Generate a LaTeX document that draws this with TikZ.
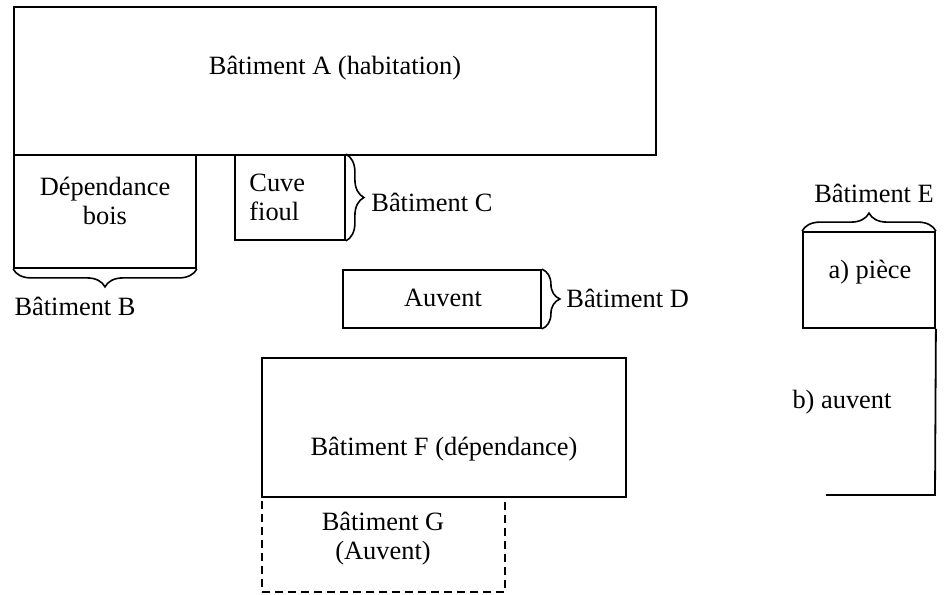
\documentclass[tikz,border=0pt]{standalone}
\usepackage{fontspec}
\setmainfont{Liberation Serif}
\usetikzlibrary{decorations.pathreplacing,fit}
\begin{document}
\begin{tikzpicture}[x=0.5pt,y=-0.5pt,
  bld/.style={draw, line width=0.9pt, inner sep=0pt},
  lbl/.style={font=\fontsize{13.2}{14.5}\selectfont, inner sep=0pt, align=center},
  brc/.style={decorate, decoration={brace, amplitude=9pt}, line width=0.8pt}]
\useasboundingbox (0,0) rectangle (951,594);

% corner points of the buildings
\coordinate (a1) at (14,7);    \coordinate (a2) at (656,155);
\coordinate (b1) at (14,155);  \coordinate (b2) at (196,268);
\coordinate (c1) at (235,155); \coordinate (c2) at (345,240);
\coordinate (d1) at (343,270); \coordinate (d2) at (541,328);
\coordinate (e1) at (803,232); \coordinate (e2) at (935,328);
\coordinate (f1) at (262,358); \coordinate (f2) at (626,497);
\coordinate (g1) at (262,497); \coordinate (g2) at (505,592);
\coordinate (e3) at (935,495); \coordinate (e4) at (826,495);

% buildings
\node[bld, fit=(a1)(a2)] (A) {};
\node[bld, fit=(b1)(b2)] (B) {};
\node[bld, fit=(c1)(c2)] (C) {};
\node[bld, fit=(d1)(d2)] (D) {};
\node[bld, fit=(e1)(e2)] (E) {};
\node[bld, fit=(f1)(f2)] (F) {};
\node[bld, dash pattern=on 4pt off 2.5pt, fit=(g1)(g2)] (G) {};
\draw[line width=0.9pt] (E.south east) -- (e3) -- (e4);

% texts inside the buildings
\node[lbl] (tA) at (335,68) {Bâtiment A (habitation)};
\node[lbl] (tB) at (105,201) {Dépendance\\bois};
\node[lbl, align=left, anchor=west] (tC) at (249,197) {Cuve\\fioul};
\node[lbl] (tD) at (443,298) {Auvent};
\node[lbl] (tEa) at (870,272) {a) pièce};
\node[lbl] (tEb) at (842,402) {b) auvent};
\node[lbl] (tF) at (444,449) {Bâtiment F (dépendance)};
\node[lbl] (tG) at (383,539) {Bâtiment G\\(Auvent)};

% braces and their labels
\draw[brc] (B.south east) -- (B.south west);
\draw[brc] (C.north east) -- (C.south east);
\draw[brc] (D.north east) -- (D.south east);
\draw[brc] (E.north west) -- (E.north east);
\node[lbl] (lB) at (75,306) {Bâtiment B};
\node[lbl, anchor=west] (lC) at (371,202) {Bâtiment C};
\node[lbl, anchor=west] (lD) at (566,298) {Bâtiment D};
\node[lbl] (lE) at (874,193) {Bâtiment E};
\end{tikzpicture}
\end{document}
